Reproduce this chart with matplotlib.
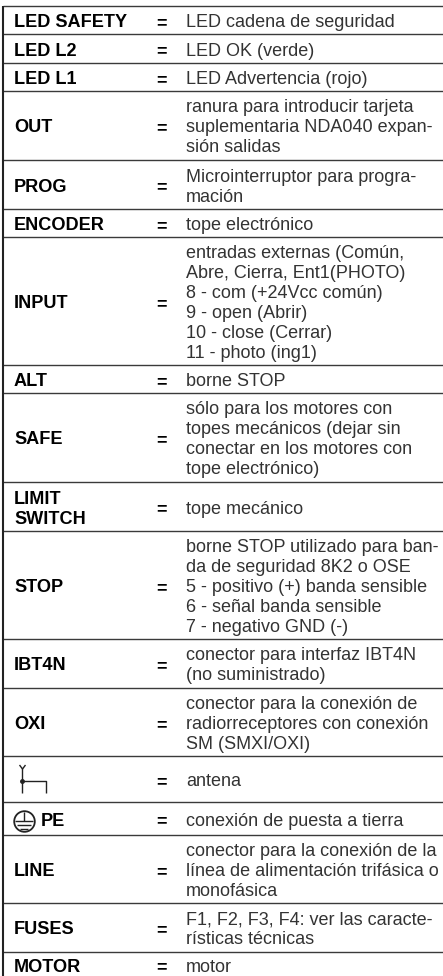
import matplotlib
matplotlib.use("Agg")
import matplotlib.pyplot as plt
from matplotlib.patches import Circle

plt.rcParams["font.family"] = ["Liberation Sans", "DejaVu Sans"]

# row contents, top to bottom
labels = ["LED SAFETY", "LED L2", "LED L1", "OUT", "PROG", "ENCODER", "INPUT", "ALT",
          "SAFE", "LIMIT\nSWITCH", "STOP", "IBT4N", "OXI", "", "PE", "LINE", "FUSES", "MOTOR"]
descriptions = [
    "LED cadena de seguridad",
    "LED OK (verde)",
    "LED Advertencia (rojo)",
    "ranura para introducir tarjeta\nsuplementaria NDA040 expan-\nsión salidas",
    "Microinterruptor para progra-\nmación",
    "tope electrónico",
    "entradas externas (Común,\nAbre, Cierra, Ent1(PHOTO)\n8 - com (+24Vcc común)\n9 - open (Abrir)\n10 - close (Cerrar)\n11 - photo (ing1)",
    "borne STOP",
    "sólo para los motores con\ntopes mecánicos (dejar sin\nconectar en los motores con\ntope electrónico)",
    "tope mecánico",
    "borne STOP utilizado para ban-\nda de seguridad 8K2 o OSE\n5 - positivo (+) banda sensible\n6 - señal banda sensible\n7 - negativo GND (-)",
    "conector para interfaz IBT4N\n(no suministrado)",
    "conector para la conexión de\nradiorreceptores con conexión\nSM (SMXI/OXI)",
    "antena",
    "conexión de puesta a tierra",
    "conector para la conexión de la\nlínea de alimentación trifásica o\nmonofásica",
    "F1, F2, F3, F4: ver las caracte-\nrísticas técnicas",
    "motor",
]

# layout, in pixels of the 443x976 picture
W, H = 443, 976
row_edges = [6, 34, 63, 91, 160, 209, 237, 365, 393, 482, 531, 639, 688, 756, 802, 835, 903, 952, 976]
LINE_H = 20
FS = 12.95
FS_BOLD = 13.1
RULE = "#3a3a3a"
TEXT = "#333333"

fig = plt.figure(figsize=(W / 100, H / 100), dpi=100)
ax = fig.add_axes([0, 0, 1, 1])
ax.set_xlim(0, W)
ax.set_ylim(H, 0)
ax.axis("off")


def put_lines(x, centre, text, size, **kw):
    """Baseline-place each line of a block around the row centre."""
    lines = text.split("\n")
    for i, line in enumerate(lines):
        y = centre + 7 + (i - (len(lines) - 1) / 2) * LINE_H
        ax.text(x, y, line, va="baseline", ha="left", fontsize=size, **kw)


# rules and left border
for y in row_edges[:-1]:
    ax.plot([3, W], [y, y], color=RULE, lw=1.0, solid_capstyle="butt")
ax.plot([3.5, 3.5], [row_edges[0] - 0.5, H], color="#222222", lw=1.5, solid_capstyle="butt")

for i, (lab, desc) in enumerate(zip(labels, descriptions)):
    c = (row_edges[i] + row_edges[i + 1]) / 2
    if i == len(labels) - 1:
        c = row_edges[i] + 13  # last row is cut by the picture edge
    label_x = 41 if lab == "PE" else 14
    if lab:
        put_lines(label_x, c, lab, FS_BOLD, color="black", fontweight="bold")
    ax.text(161.5, min(c + 8, 972), "=", ha="center", va="baseline", fontsize=FS,
            fontweight="bold", color="black")
    put_lines(186, c, desc, FS, color=TEXT)

# antenna symbol
ink = dict(color="#222222", lw=1.0, solid_capstyle="butt")
ax.plot([22.5, 22.5], [768, 793], **ink)
ax.plot([19.5, 22.5, 25.5], [765, 769, 765], **ink)
ax.plot([22.5, 46.5, 46.5], [781, 781, 793], **ink)
ax.plot([22.5], [781], "o", ms=2.5, color="#222222")

# earth symbol
ex, ey = 24.5, 821.5
ax.add_patch(Circle((ex, ey), 10.3, fill=False, ec="#222222", lw=1.3))
ax.plot([ex, ex], [ey - 10, ey - 1], **ink)
ax.plot([ex - 9, ex + 9], [ey - 1, ey - 1], **ink)
ax.plot([ex - 7, ex + 7], [ey + 3, ey + 3], **ink)
ax.plot([ex - 4, ex + 4], [ey + 7, ey + 7], **ink)

fig.savefig("out.png", dpi=100)
